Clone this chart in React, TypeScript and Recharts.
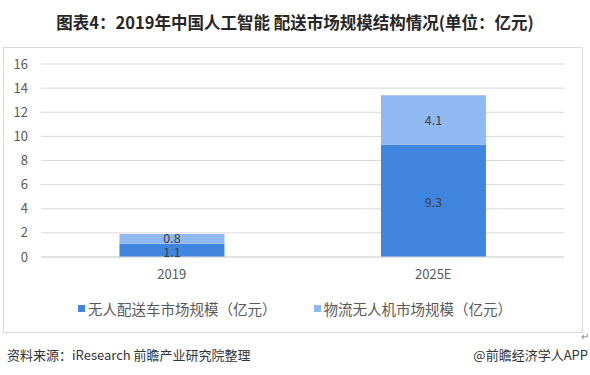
import React from "react";
import { BarChart, Bar, XAxis, YAxis, CartesianGrid, LabelList } from "recharts";

const categories = ["2019", "2025E"];
const vehicleValues = [1.1, 9.3];
const droneValues = [0.8, 4.1];
const yTicks = [0, 2, 4, 6, 8, 10, 12, 14, 16];
const seriesNames = ["无人配送车市场规模（亿元）", "物流无人机市场规模（亿元）"];
const seriesColors = ["#4085E0", "#8FB9F0"];

const data = categories.map((c, i) => ({ name: c, vehicle: vehicleValues[i], drone: droneValues[i] }));

const FONT = "'Noto Sans CJK SC', 'Noto Sans', sans-serif";

export default function App() {
  return (
    <div style={{ position: "absolute", left: 0, top: 0, width: 590, height: 375, fontFamily: FONT, background: "#fff", overflow: "hidden" }}>
      <div style={{ position: "absolute", left: 0, top: 11, width: 590, textAlign: "center", fontSize: 16.5, fontWeight: 700, color: "#262626", lineHeight: "22px", whiteSpace: "nowrap" }}>
        图表4：2019年中国人工智能 配送市场规模结构情况(单位：亿元)
      </div>
      <div style={{ position: "absolute", left: 3, top: 47, width: 578, height: 284, border: "1px solid #d9d9d9" }} />
      <div style={{ position: "absolute", left: 0, top: 0 }}>
        <BarChart width={590} height={340} data={data} margin={{ top: 64, right: 26, bottom: 53, left: 0 }} barCategoryGap="30%">
          <CartesianGrid vertical={false} stroke="#d9d9d9" />
          <XAxis dataKey="name" axisLine={{ stroke: "#d9d9d9" }} tickLine={false} tickMargin={7} height={30}
            tick={{ fill: "#595959", fontSize: 13, fontFamily: FONT }} />
          <YAxis domain={[0, 16]} ticks={yTicks} width={41} axisLine={false} tickLine={false} tickMargin={7}
            tick={{ fill: "#595959", fontSize: 13, fontFamily: FONT }} interval={0} />
          <Bar dataKey="vehicle" stackId="a" fill={seriesColors[0]} isAnimationActive={false}>
            <LabelList dataKey="vehicle" position="center" fill="#404040" fontSize={12.5} fontFamily={FONT} dy={2} />
          </Bar>
          <Bar dataKey="drone" stackId="a" fill={seriesColors[1]} isAnimationActive={false}>
            <LabelList dataKey="drone" position="center" fill="#404040" fontSize={12.5} fontFamily={FONT} />
          </Bar>
        </BarChart>
      </div>
      <div style={{ position: "absolute", left: 78, top: 297, display: "flex", alignItems: "center", height: 22 }}>
        {seriesNames.map((n, i) => (
          <div key={n} style={{ display: "flex", alignItems: "center", marginRight: 37 }}>
            <div style={{ width: 7, height: 7, background: seriesColors[i], marginRight: 3 }} />
            <span style={{ fontSize: 14.5, color: "#595959", whiteSpace: "nowrap" }}>{n}</span>
          </div>
        ))}
      </div>
      <div style={{ position: "absolute", left: 581, top: 328, fontSize: 10, color: "#888" }}>↵</div>
      <div style={{ position: "absolute", left: 7, top: 345, fontSize: 13, color: "#333", lineHeight: "20px", whiteSpace: "nowrap" }}>
        资料来源：iResearch 前瞻产业研究院整理
      </div>
      <div style={{ position: "absolute", right: 2, top: 345, fontSize: 13, color: "#333", lineHeight: "20px", whiteSpace: "nowrap" }}>
        @前瞻经济学人APP
      </div>
    </div>
  );
}
